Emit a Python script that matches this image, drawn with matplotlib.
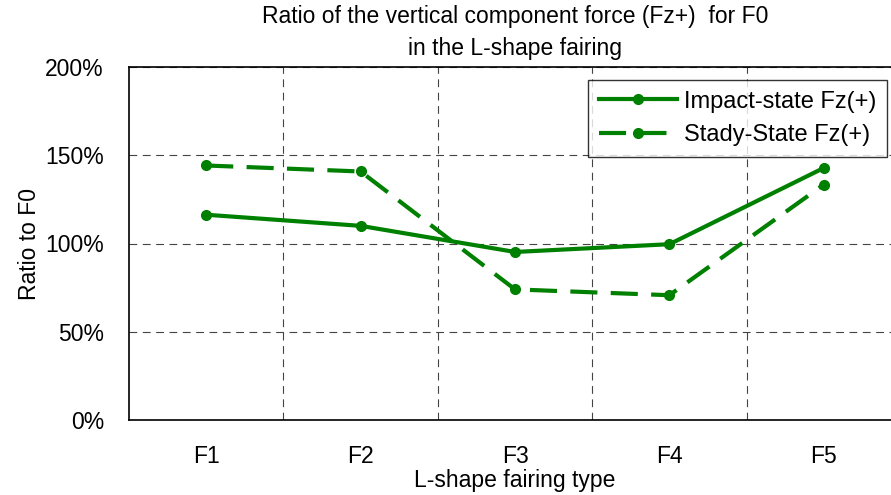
import matplotlib
matplotlib.use("Agg")
import matplotlib.pyplot as plt
import matplotlib.ticker as mticker

plt.rcParams["font.family"] = ["Liberation Sans", "DejaVu Sans"]

# data
categories = ["F1", "F2", "F3", "F4", "F5"]
impact_fz = [116.3, 110.0, 95.2, 99.6, 142.8]
steady_fz = [144.2, 140.8, 74.0, 70.7, 133.4]

GREEN = "#008000"

fig = plt.figure(figsize=(8.91, 4.95), dpi=100)
ax = fig.add_axes([129 / 891, 75 / 495, 772 / 891, 353 / 495])

x = list(range(1, len(categories) + 1))
ax.plot(x, impact_fz, color=GREEN, linewidth=3, marker="o", markersize=7,
        label="Impact-state Fz(+)")
ax.plot(x, steady_fz, color=GREEN, linewidth=3, marker="o", markersize=7,
        linestyle=(0, (6.5, 3.2)), label="Stady-State Fz(+)")

ax.set_xlim(0.5, 5.5)
ax.set_ylim(0, 200)
ax.set_xticks(x)
ax.set_xticklabels(categories)
ax.set_xticks([1.5, 2.5, 3.5, 4.5], minor=True)
ax.set_yticks([0, 50, 100, 150, 200])
ax.yaxis.set_major_formatter(mticker.FuncFormatter(lambda v, p: f"{v:.0f}%"))

ax.tick_params(axis="x", which="both", length=0, pad=18, labelsize=16.5)
ax.tick_params(axis="y", length=0, pad=18, labelsize=16.5)

ax.grid(True, axis="x", which="minor", color="#444444", linestyle=(0, (7, 5)), linewidth=0.8)
ax.grid(True, axis="y", which="major", color="#444444", linestyle=(0, (7, 5)), linewidth=0.8)
ax.grid(False, axis="x", which="major")

for s in ax.spines.values():
    s.set_linewidth(1.2)

ax.set_xlabel("L-shape fairing type", fontsize=16.5, labelpad=1)
ax.set_ylabel("Ratio to F0", fontsize=16.5, labelpad=3)
ax.set_title("Ratio of the vertical component force (Fz+)  for F0\nin the L-shape fairing",
             fontsize=16.5, pad=9, linespacing=1.45)

leg = ax.legend(loc="upper right", bbox_to_anchor=((887 - 129) / 772, 1 - 13 / 353),
                borderaxespad=0, fontsize=17, handlelength=3.3, frameon=True,
                fancybox=False, edgecolor="black", borderpad=0.45,
                labelspacing=0.5, handletextpad=0.3)
leg.get_frame().set_linewidth(1.0)

fig.savefig("out.png", dpi=100)
